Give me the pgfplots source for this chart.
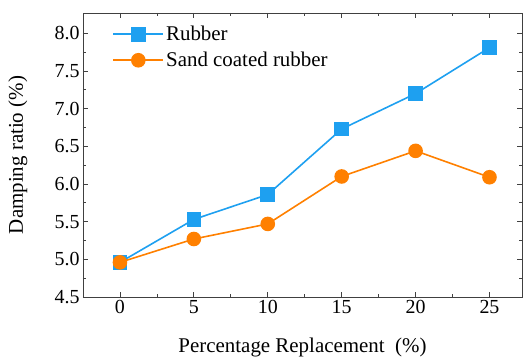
\documentclass[border=0pt]{standalone}
\usepackage{pgfplots}
\pgfplotsset{compat=1.18}
\usepackage{fontspec}
\setmainfont{Liberation Serif}
\definecolor{rub}{RGB}{30,160,240}
\definecolor{sand}{RGB}{255,128,0}
\begin{document}
\begin{tikzpicture}
\begin{axis}[
  scale only axis,
  width=439bp, height=284bp,
  xmin=-2.5, xmax=27.2, ymin=4.5, ymax=8.27,
  xtick={0,5,10,15,20,25},
  ytick={4.5,5.0,5.5,6.0,6.5,7.0,7.5,8.0},
  minor x tick num=1, minor y tick num=1,
  tick align=inside,
  major tick length=5bp, minor tick length=3bp,
  axis line style={line width=0.9bp, black!75},
  every tick/.style={black!75, line width=0.8bp},
  yticklabel style={/pgf/number format/.cd, fixed, fixed zerofill, precision=1},
  ticklabel style={font=\fontsize{20}{22}\selectfont},
  /pgf/number format/assume math mode=true,
  xlabel={Percentage Replacement\ \ (\%)},
  ylabel={Damping ratio (\%)},
  label style={font=\fontsize{21}{23}\selectfont},
  xlabel style={at={(axis description cs:0.5,0)}, anchor=north, yshift=-37bp},
  ylabel style={at={(axis description cs:0,0.5)}, anchor=south, yshift=52bp},
  legend style={draw=none, fill=none, at={(0.06,0.968)}, anchor=north west,
    font=\fontsize{21}{23}\selectfont, row sep=6bp},
  legend cell align=left,
  legend image code/.code={\draw[#1] (0bp,0bp) -- (50bp,0bp); \draw[#1, only marks] plot coordinates {(25bp,0bp)};},
]
\addplot[rub, line width=1.6bp, mark=square*, mark size=6.5bp, mark options={solid}] coordinates {
 (0,4.96) (5,5.53) (10,5.86) (15,6.73) (20,7.20) (25,7.81)};
\addlegendentry{Rubber}
\addplot[sand, line width=1.6bp, mark=*, mark size=6.5bp] coordinates {
 (0,4.96) (5,5.27) (10,5.47) (15,6.10) (20,6.44) (25,6.09)};
\addlegendentry{Sand coated rubber}
\end{axis}
\pgfresetboundingbox
\path (current axis.south west) ++(-83bp,-64bp) rectangle ([xshift=2bp,yshift=13bp]current axis.north east);
\end{tikzpicture}
\end{document}
